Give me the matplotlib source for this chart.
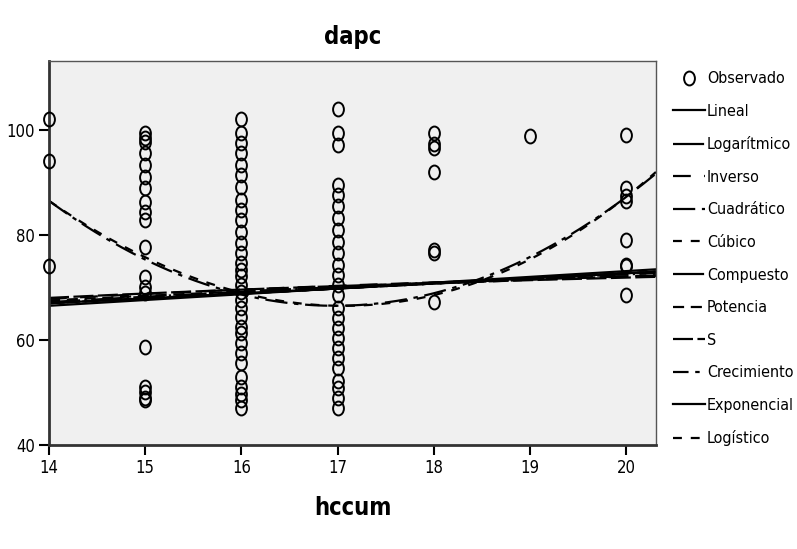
import numpy as np
import matplotlib
matplotlib.use("Agg")
import matplotlib.pyplot as plt
from matplotlib.path import Path
from matplotlib.transforms import Affine2D

plt.rcParams['font.family'] = ['DejaVu Sans']
plt.rcParams['font.stretch'] = 'condensed'

# Datos observados (dapc por nivel de hccum)
dapc_14 = [102, 94, 74]
dapc_15 = [99.4, 98.5, 97.7, 95.6, 93.3, 91, 89, 86.3, 84.4, 82.9, 77.7,
           72, 70, 69, 58.7, 51, 50, 49, 48.5]
dapc_16 = [102, 99.4, 97.5, 95.6, 93.3, 91.4, 89.2, 86.7, 84.8, 82.9, 80.6,
           78.4, 76.5, 74.6, 73.3, 72.1, 70.5, 69.2, 67.6, 66, 64.4, 62.5,
           61.3, 59.4, 57.5, 55.6, 53, 51.1, 49.8, 48.6, 47]
dapc_17 = [104, 99.4, 97.1, 89.5, 87.6, 85.4, 83.2, 80.9, 78.7, 76.5, 74.3,
           72.4, 70.5, 68.6, 66, 64.1, 62.2, 60.3, 58.4, 56.5, 54.6, 52.1,
           50.8, 48.9, 47]
dapc_18 = [99.4, 97.2, 96.5, 92, 77.1, 76.5, 67.3]
dapc_19 = [98.9]
dapc_20 = [99, 89, 87.3, 86.4, 79, 74.3, 74, 68.6]
niveles = [14, 15, 16, 17, 18, 19, 20]
grupos = [dapc_14, dapc_15, dapc_16, dapc_17, dapc_18, dapc_19, dapc_20]

# Coeficientes de los modelos (estimados de la figura)
lineal = [66.5, 1.1]            # b0 + b1*(x-14)
logaritmico = [28.14, 14.8]     # b0 + b1*ln(x)
inverso = [81.98, -198.5]       # b0 + b1/x
cuadratico = [66.5, 0.12, 2.26]          # en t = x-17
cubico = [66.5, -0.28, 2.26, 0.045]      # en t = x-17
compuesto = [55.37, 1.0137]     # b0 * b1**x
potencia = [41.44, 0.185]       # b0 * x**b1
modelo_s = [4.4038, -2.58]      # exp(b0 + b1/x)

xs = np.linspace(14, 20.31, 200)
t = xs - 17
curvas = [
    ('Lineal', lineal[0] + lineal[1] * (xs - 14), '-'),
    ('Logarítmico', logaritmico[0] + logaritmico[1] * np.log(xs), (0, (14, 2, 1, 2))),
    ('Inverso', inverso[0] + inverso[1] / xs, (0, (8, 6))),
    ('Cuadrático', cuadratico[0] + cuadratico[1] * t + cuadratico[2] * t**2, (0, (10, 3, 2, 3))),
    ('Cúbico', cubico[0] + cubico[1] * t + cubico[2] * t**2 + cubico[3] * t**3, (0, (4, 4))),
    ('Compuesto', compuesto[0] * compuesto[1]**xs, (0, (14, 2, 1, 2))),
    ('Potencia', potencia[0] * xs**potencia[1], (0, (5, 3))),
    ('S', np.exp(modelo_s[0] + modelo_s[1] / xs), (0, (9, 2))),
    ('Crecimiento', compuesto[0] * compuesto[1]**xs, (0, (7, 3, 2, 3))),
    ('Exponencial', compuesto[0] * compuesto[1]**xs, '-'),
    ('Logístico', compuesto[0] * compuesto[1]**xs, (0, (4, 4))),
]

# circulo algo alargado, como en la figura original
ovalo = Path.unit_circle().transformed(Affine2D().scale(0.78, 1.0))

fig = plt.figure(figsize=(7.97, 5.49), dpi=100)
ax = fig.add_axes([0.0615, 0.1894, 0.7615, 0.6996])
ax.set_facecolor('#f0f0f0')

xo = [n for n, g in zip(niveles, grupos) for _ in g]
yo = [v for g in grupos for v in g]
ax.plot(xo, yo, ls='none', marker=ovalo, mfc='none', mec='black', ms=10, mew=1.4,
        label='Observado', clip_on=False, zorder=3)

for nombre, ys, ls in curvas:
    ax.plot(xs, ys, color='black', ls=ls, lw=1.6, label=nombre)

ax.set_xlim(14, 20.31)
ax.set_ylim(40, 113.1)
ax.set_xticks(niveles)
ax.set_yticks([40, 60, 80, 100])
ax.tick_params(direction='out', length=7, width=1.5, labelsize=12, pad=3)

for s in ['left', 'bottom']:
    ax.spines[s].set_linewidth(2)
    ax.spines[s].set_color('#333333')
for s in ['top', 'right']:
    ax.spines[s].set_linewidth(1)
    ax.spines[s].set_color('#555555')

ax.set_title('dapc', fontsize=17, fontweight='bold', pad=12)
ax.set_xlabel('hccum', fontsize=17, fontweight='bold', labelpad=14)

ax.legend(loc='upper left', bbox_to_anchor=(0.836, 0.882), bbox_transform=fig.transFigure,
          frameon=False, fontsize=11.5, handlelength=2.0, handletextpad=0.15,
          labelspacing=1.1, borderaxespad=0)

fig.savefig('out.png', dpi=100)
